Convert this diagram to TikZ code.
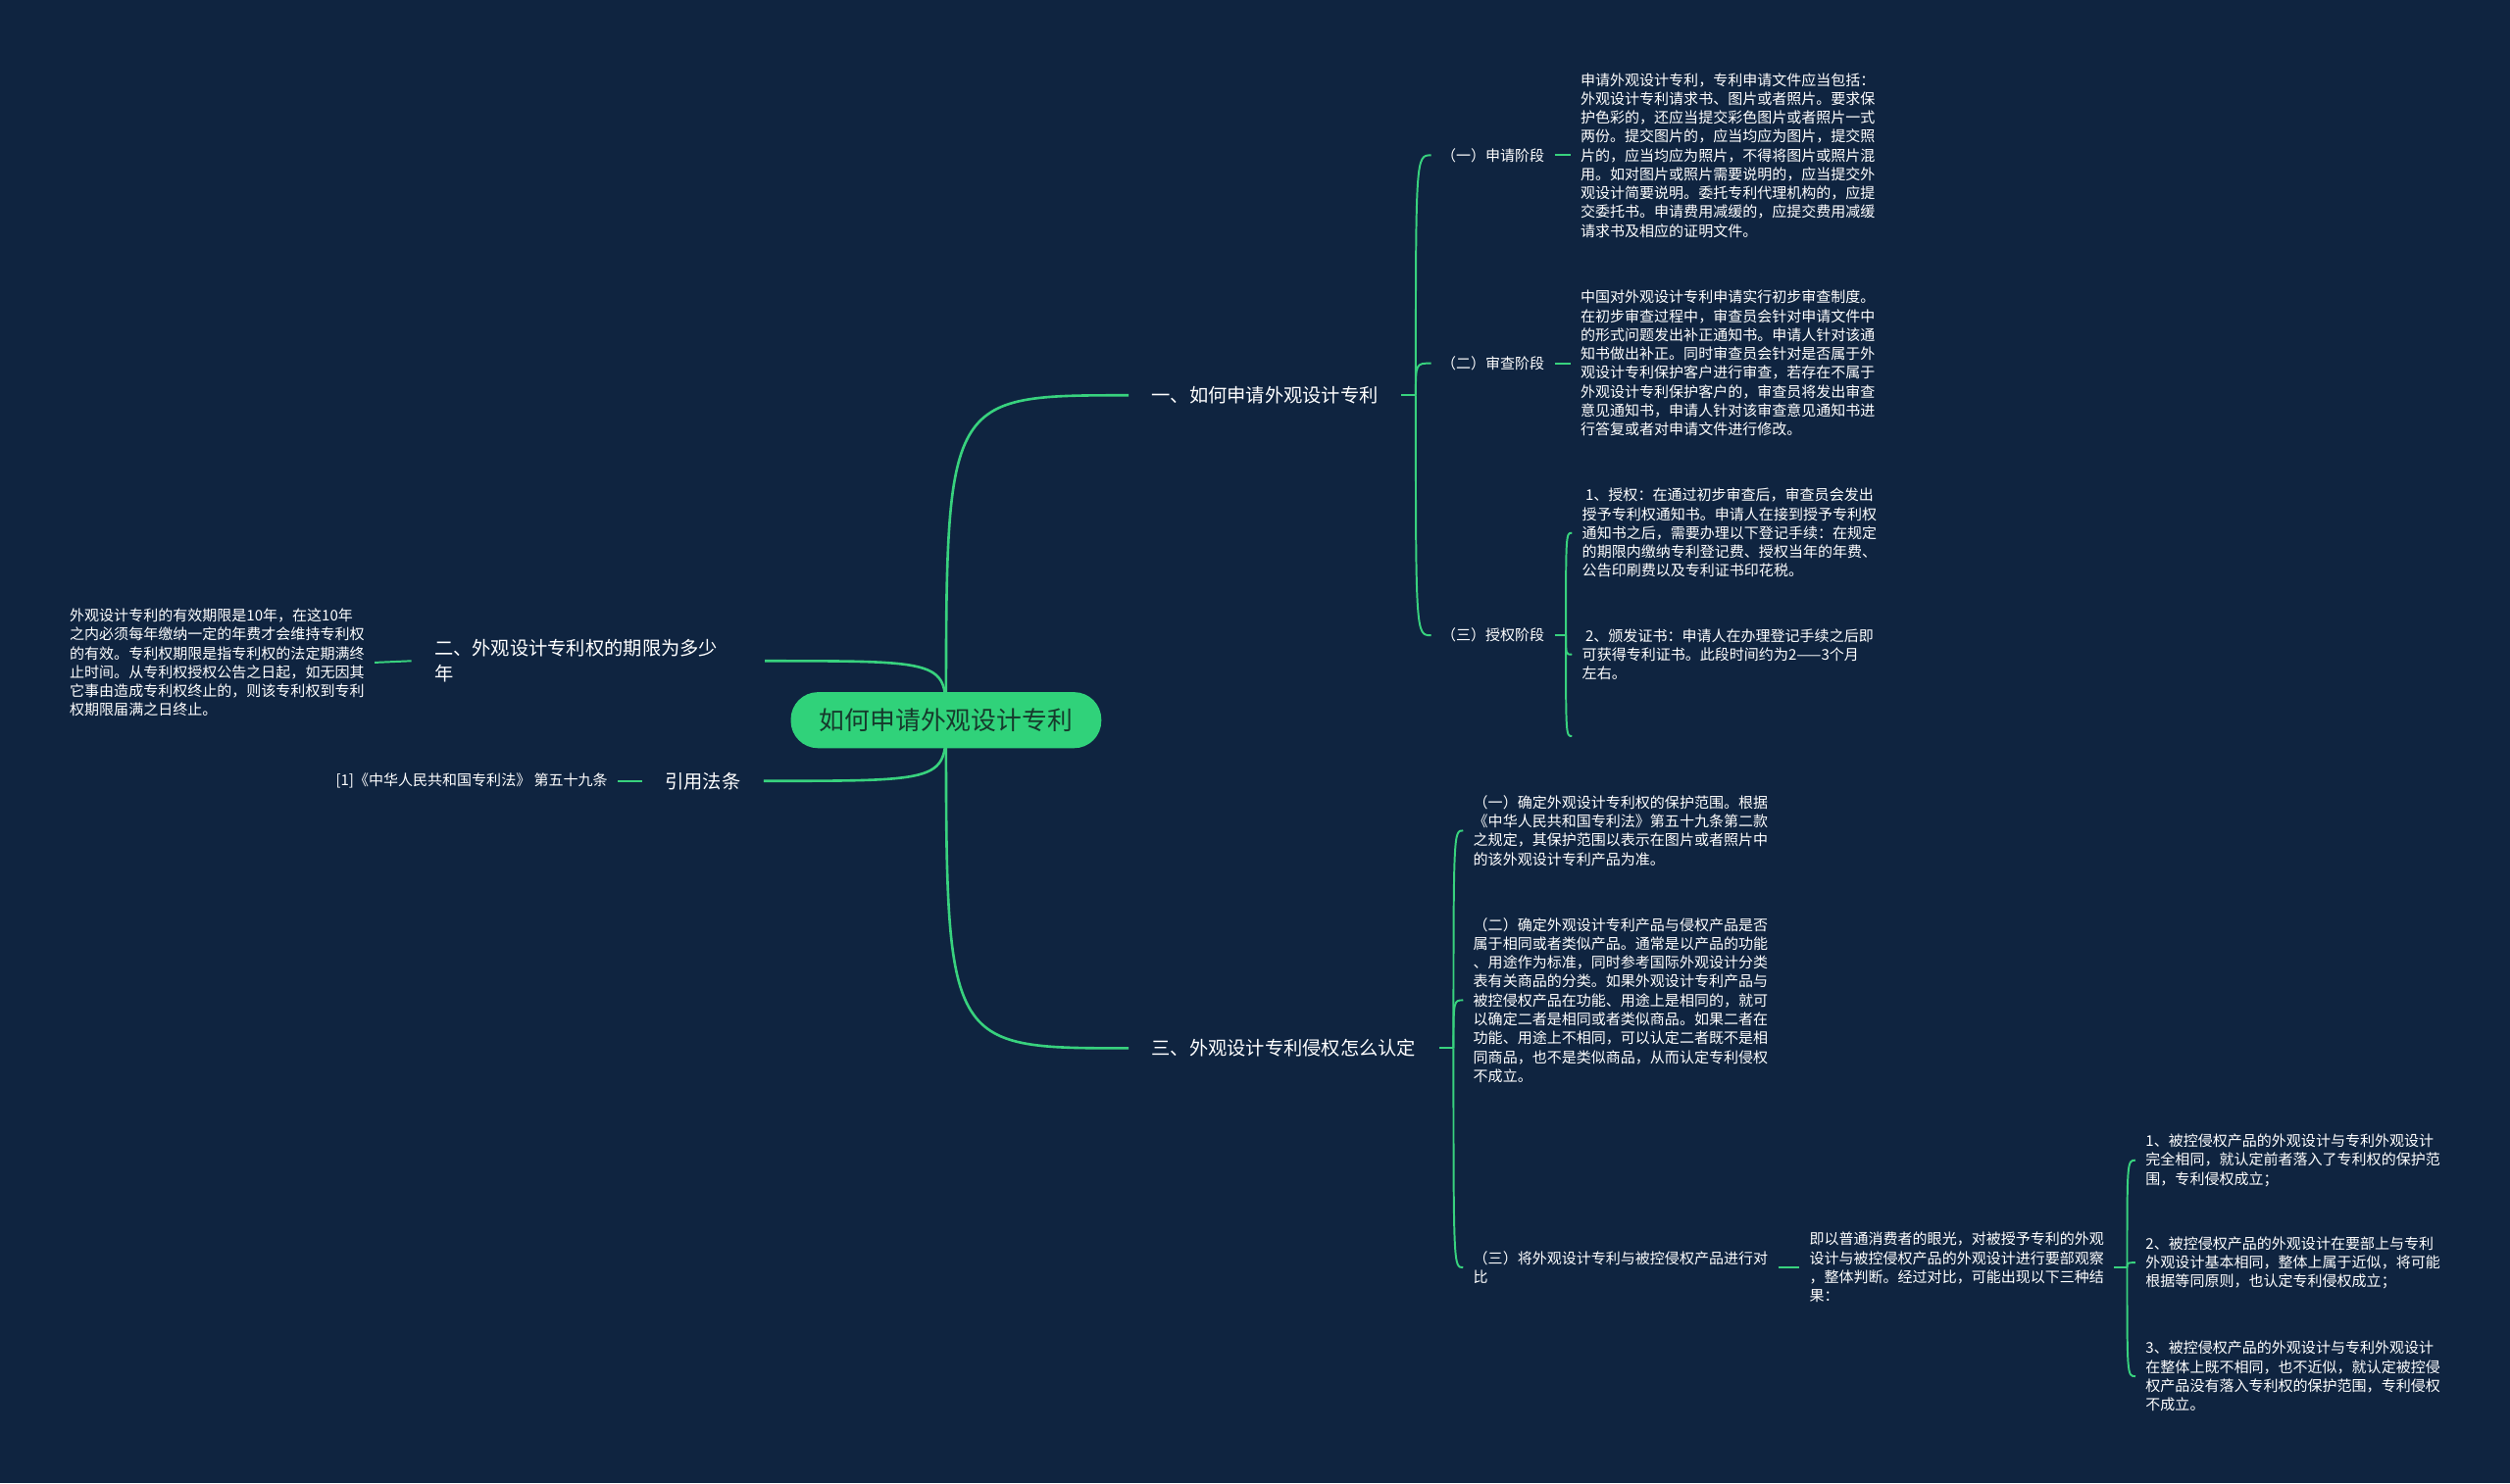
\documentclass[tikz,border=0pt]{standalone}
\usepackage{fontspec}
\setmainfont{Noto Sans CJK SC}
\usepackage{tikz}
\usetikzlibrary{positioning,calc,backgrounds}
\definecolor{navy}{HTML}{0F2440}
\definecolor{linegreen}{HTML}{38D27E}
\definecolor{rootgreen}{HTML}{30D27A}
\definecolor{rootink}{HTML}{163A2C}
\tikzset{
  rootnode/.style={fill=rootgreen,text=rootink,rounded corners=8.5pt,inner sep=0pt,
    minimum width=97pt,minimum height=17.5pt,font=\fontsize{7.9}{9}\selectfont},
  branch/.style={anchor=west,text=white,align=left,inner xsep=7pt,inner ysep=2pt,
    font=\fontsize{5.9}{8}\selectfont},
  sub/.style={anchor=west,text=white,align=left,inner xsep=3pt,inner ysep=1pt,
    font=\fontsize{4.6}{5.9}\selectfont},
  link/.style={draw=linegreen,line width=0.8pt},
  twig/.style={draw=linegreen,line width=0.6pt},
}

\begin{document}
\begin{tikzpicture}[x=0.5pt,y=-0.5pt]
  \useasboundingbox (0,0) rectangle (1568,927);
  % central topic and main branches
  \node[rootnode] (root) at (591,450) {如何申请外观设计专利};
  \node[branch] (b1) at (705,247) {一、如何申请外观设计专利};
  \node[branch,text width=96pt] (b2) at (257,413) {二、外观设计专利权的期限为多少\\年};
  \node[branch] (b4) at (401,488) {引用法条};
  \node[branch] (b3) at (705,655) {三、外观设计专利侵权怎么认定};
  % left side
  \node[sub,anchor=east] (t2) at (234,414) {外观设计专利的有效期限是10年，在这10年\\之内必须每年缴纳一定的年费才会维持专利权\\的有效。专利权期限是指专利权的法定期满终\\止时间。从专利权授权公告之日起，如无因其\\它事由造成专利权终止的，则该专利权到专利\\权期限届满之日终止。};
  \node[sub,anchor=east] (t4) at (386,488) {[1]《中华人民共和国专利法》 第五十九条};
  % branch one
  \node[sub] (c11) at (894,97) {（一）申请阶段};
  \node[sub] (c12) at (894,227) {（二）审查阶段};
  \node[sub] (c13) at (894,397) {（三）授权阶段};
  \node[sub] (d11) at (981,97) {申请外观设计专利，专利申请文件应当包括：\\外观设计专利请求书、图片或者照片。要求保\\护色彩的，还应当提交彩色图片或者照片一式\\两份。提交图片的，应当均应为图片，提交照\\片的，应当均应为照片，不得将图片或照片混\\用。如对图片或照片需要说明的，应当提交外\\观设计简要说明。委托专利代理机构的，应提\\交委托书。申请费用减缓的，应提交费用减缓\\请求书及相应的证明文件。};
  \node[sub] (d12) at (981,227) {中国对外观设计专利申请实行初步审查制度。\\在初步审查过程中，审查员会针对申请文件中\\的形式问题发出补正通知书。申请人针对该通\\知书做出补正。同时审查员会针对是否属于外\\观设计专利保护客户进行审查，若存在不属于\\外观设计专利保护客户的，审查员将发出审查\\意见通知书，申请人针对该审查意见通知书进\\行答复或者对申请文件进行修改。};
  \node[sub] (d131) at (982,333) {\ 1、授权：在通过初步审查后，审查员会发出\\授予专利权通知书。申请人在接到授予专利权\\通知书之后，需要办理以下登记手续：在规定\\的期限内缴纳专利登记费、授权当年的年费、\\公告印刷费以及专利证书印花税。};
  \node[sub] (d132) at (982,409) {\ 2、颁发证书：申请人在办理登记手续之后即\\可获得专利证书。此段时间约为2——3个月\\左右。};
  \coordinate (e133) at (982,460);
  % branch three
  \node[sub] (c31) at (914,519) {（一）确定外观设计专利权的保护范围。根据\\《中华人民共和国专利法》第五十九条第二款\\之规定，其保护范围以表示在图片或者照片中\\的该外观设计专利产品为准。};
  \node[sub] (c32) at (914,625) {（二）确定外观设计专利产品与侵权产品是否\\属于相同或者类似产品。通常是以产品的功能\\、用途作为标准，同时参考国际外观设计分类\\表有关商品的分类。如果外观设计专利产品与\\被控侵权产品在功能、用途上是相同的，就可\\以确定二者是相同或者类似商品。如果二者在\\功能、用途上不相同，可以认定二者既不是相\\同商品，也不是类似商品，从而认定专利侵权\\不成立。};
  \node[sub] (c33) at (914,792) {（三）将外观设计专利与被控侵权产品进行对\\比};
  \node[sub] (d33) at (1124,792) {即以普通消费者的眼光，对被授予专利的外观\\设计与被控侵权产品的外观设计进行要部观察\\，整体判断。经过对比，可能出现以下三种结\\果：};
  \node[sub] (r1) at (1334,725) {1、被控侵权产品的外观设计与专利外观设计\\完全相同，就认定前者落入了专利权的保护范\\围，专利侵权成立；};
  \node[sub] (r2) at (1334,789) {2、被控侵权产品的外观设计在要部上与专利\\外观设计基本相同，整体上属于近似，将可能\\根据等同原则，也认定专利侵权成立；};
  \node[sub] (r3) at (1334,860) {3、被控侵权产品的外观设计与专利外观设计\\在整体上既不相同，也不近似，就认定被控侵\\权产品没有落入专利权的保护范围，专利侵权\\不成立。};
  % connectors under the nodes
  \begin{scope}[on background layer]
    \fill[navy] (0,0) rectangle (1568,927);
    \foreach \b in {b1,b3}
      \draw[link] (root.center) .. controls (root.center |- \b.west) .. (\b.west);
    \foreach \b in {b2,b4}
      \draw[link] (root.center) .. controls (root.center |- \b.east) .. (\b.east);
    \draw[twig] (t2.east) -- (b2.west);
    \draw[twig] (t4.east) -- (b4.west);
    \draw[twig] (b1.east) -- ++(9,0) coordinate (j1);
    \foreach \k in {c11,c12,c13}
      \draw[twig] (j1) .. controls (j1 |- \k.west) .. (\k.west);
    \draw[twig] (c11.east) -- (d11.west);
    \draw[twig] (c12.east) -- (d12.west);
    \draw[twig] (c13.east) -- ++(7,0) coordinate (j13);
    \foreach \k in {d131.west,d132.west,e133}
      \draw[twig] (j13) .. controls (j13 |- \k) .. (\k);
    \draw[twig] (b3.east) -- ++(9,0) coordinate (j3);
    \foreach \k in {c31,c32,c33}
      \draw[twig] (j3) .. controls (j3 |- \k.west) .. (\k.west);
    \draw[twig] (c33.east) -- (d33.west);
    \draw[twig] (d33.east) -- ++(8,0) coordinate (j33);
    \foreach \k in {r1,r2,r3}
      \draw[twig] (j33) .. controls (j33 |- \k.west) .. (\k.west);
  \end{scope}
\end{tikzpicture}
\end{document}
